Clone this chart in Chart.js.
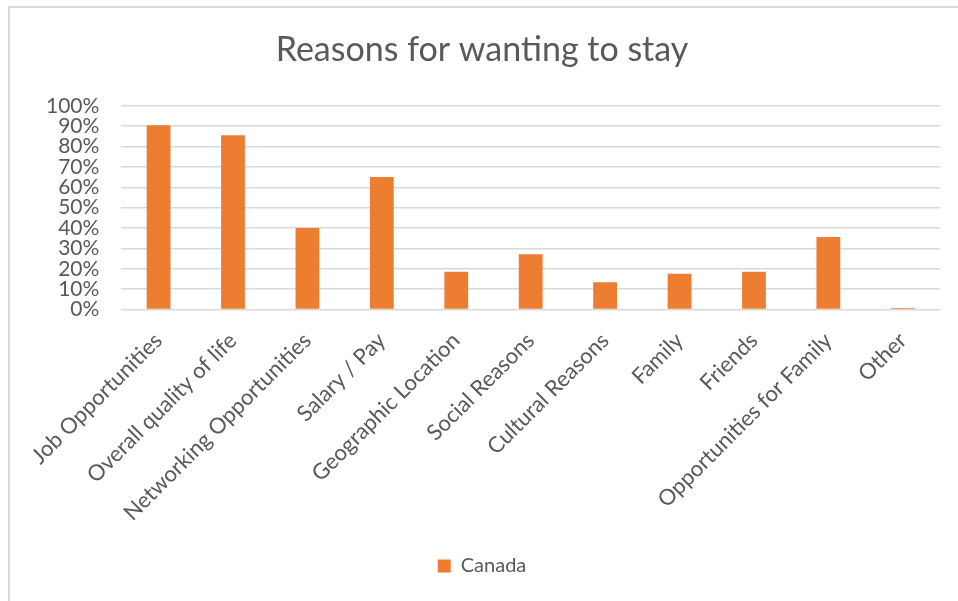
<!DOCTYPE html>
<html>
<head>
<meta charset="utf-8">
<script src="https://cdn.jsdelivr.net/npm/chart.js@4"></script>
<style>
  body { margin: 0; background: #fff; overflow: hidden; }
  #frame { position: absolute; left: 8px; top: 6px; width: 1000px; height: 700px; border: 2px solid #d9d9d9; }
  #chart { position: absolute; left: 0; top: 0; }
</style>
</head>
<body>
<div id="frame"></div>
<canvas id="chart" width="958" height="601"></canvas>
<script>
// data
const categories = [
    "Job Opportunities", "Overall quality of life", "Networking Opportunities",
    "Salary / Pay", "Geographic Location", "Social Reasons", "Cultural Reasons",
    "Family", "Friends", "Opportunities for Family", "Other"
];
const canadaValues = [0.905, 0.855, 0.40, 0.65, 0.186, 0.272, 0.134, 0.176, 0.186, 0.356, 0.008];
const seriesName = "Canada";
const yTicks = [0, 0.1, 0.2, 0.3, 0.4, 0.5, 0.6, 0.7, 0.8, 0.9, 1];

const textColor = "#595959";
const font = "Lato";

const ctx = document.getElementById("chart").getContext("2d");

new Chart(ctx, {
    type: "bar",
    data: {
        labels: categories,
        datasets: [{
            label: seriesName,
            data: canadaValues,
            backgroundColor: "#ED7D31",
            categoryPercentage: 1,
            barPercentage: 0.32
        }]
    },
    options: {
        responsive: false,
        animation: false,
        layout: { padding: { left: 24, right: 18, top: 0, bottom: 15 } },
        plugins: {
            title: {
                display: true,
                text: "Reasons for wanting to stay",
                color: textColor,
                font: { family: font, size: 34, weight: "normal" },
                padding: { top: 30, bottom: 35 }
            },
            legend: {
                position: "bottom",
                labels: {
                    color: textColor,
                    boxWidth: 13,
                    boxHeight: 13,
                    padding: 20,
                    font: { family: font, size: 20 }
                }
            },
            tooltip: { enabled: false }
        },
        scales: {
            x: {
                grid: { display: false },
                border: { display: false },
                ticks: {
                    autoSkip: false,
                    maxRotation: 45,
                    minRotation: 45,
                    padding: 10,
                    color: textColor,
                    font: { family: font, size: 22 }
                }
            },
            y: {
                min: 0,
                max: 1,
                afterBuildTicks: axis => { axis.ticks = yTicks.map(v => ({ value: v })); },
                grid: { color: "#d9d9d9", lineWidth: 1.5, drawTicks: false },
                border: { display: false },
                ticks: {
                    autoSkip: false,
                    padding: 22,
                    color: textColor,
                    font: { family: font, size: 21 },
                    callback: v => Math.round(v * 100) + "%"
                }
            }
        }
    }
});
</script>
</body>
</html>
